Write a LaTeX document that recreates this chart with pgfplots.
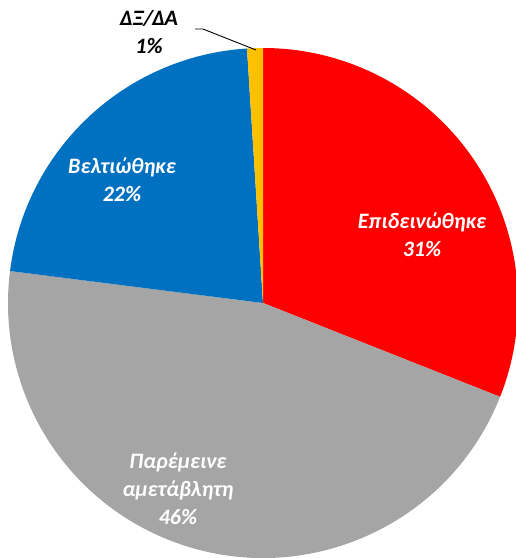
\documentclass[border=0pt]{standalone}
\usepackage{fontspec}
\setmainfont{Carlito}
\usepackage{pgfplots}
\usepackage{pgfplotstable}
\pgfplotsset{compat=1.18}

\definecolor{pieRed}{HTML}{FF0000}
\definecolor{pieGray}{HTML}{A5A5A5}
\definecolor{pieBlue}{HTML}{0070C0}
\definecolor{pieOrange}{HTML}{FFC000}

% share in percent, clockwise from 12 o'clock
\pgfplotstableread{
value col
31 pieRed
46 pieGray
22 pieBlue
1  pieOrange
}\piedata

\begin{document}
\begin{tikzpicture}
\begin{axis}[
  width=516pt, height=558pt, scale only axis,
  hide axis,
  xmin=-263, xmax=253, ymin=-255, ymax=303,
  clip=false,
]
\pgfplotsextra{
  \gdef\cum{0}
  \pgfplotstablegetrowsof{\piedata}
  \pgfmathtruncatemacro\last{\pgfplotsretval-1}
  \pgfplotsforeachungrouped \i in {0,...,\last}{
    \pgfplotstablegetelem{\i}{value}\of\piedata \let\v\pgfplotsretval
    \pgfplotstablegetelem{\i}{col}\of\piedata \let\c\pgfplotsretval
    \pgfmathsetmacro\a{90-3.6*\cum}
    \pgfmathsetmacro\b{90-3.6*(\cum+\v)}
    \fill[color=\c] (axis cs:0,0) -- ++(\a:255pt)
      arc[start angle=\a, end angle=\b, radius=255pt] -- cycle;
    \pgfmathsetmacro\cum{\cum+\v}
    \xdef\cum{\cum}
  }
}
\tikzset{lbl/.style={font=\fontsize{22}{28}\selectfont\bfseries\itshape, align=center}}
\node[lbl, white] at (axis cs:159,68) {Επιδεινώθηκε\\31\%};
\node[lbl, white] at (axis cs:-141,123) {Βελτιώθηκε\\22\%};
\node[lbl, white] at (axis cs:-85,-186) {Παρέμεινε\\αμετάβλητη\\46\%};
\node[lbl, black] at (axis cs:-114,271) {ΔΞ/ΔΑ\\1\%};
\draw[black, line width=0.9pt] (axis cs:-68,274) -- (axis cs:-60,274) -- (axis cs:-7,253);
\end{axis}
\pgfresetboundingbox
\path[use as bounding box] (current axis.south west) rectangle (current axis.north east);
\end{tikzpicture}
\end{document}
